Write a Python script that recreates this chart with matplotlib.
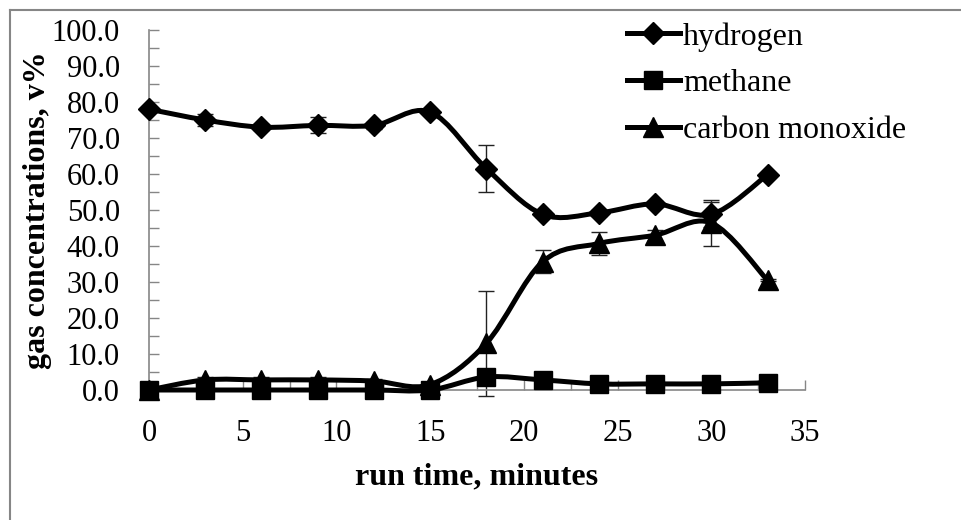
import numpy as np
import matplotlib
matplotlib.use("Agg")
import matplotlib.pyplot as plt
from matplotlib.path import Path
from matplotlib.patches import PathPatch
from matplotlib.lines import Line2D
from matplotlib.ticker import MultipleLocator, FormatStrFormatter

# run time, minutes
run_time = [0, 3, 6, 9, 12, 15, 18, 21, 24, 27, 30, 33]

# gas concentrations, v%
hydrogen = [78.0, 75.0, 73.0, 73.5, 73.5, 77.2, 61.5, 48.8, 49.2, 51.7, 48.8, 59.8]
hydrogen_err = [0.0, 1.8, 0.8, 2.2, 1.0, 0.5, 6.5, 0.8, 0.8, 0.8, 3.5, 0.5]
methane = [0.0, 0.0, 0.0, 0.0, 0.0, 0.0, 3.6, 2.8, 1.7, 1.7, 1.7, 2.0]
methane_err = [0.0, 0.0, 0.0, 0.0, 0.0, 0.0, 0.5, 0.3, 0.2, 0.2, 0.2, 0.2]
co = [0.0, 2.8, 2.8, 2.8, 2.5, 1.5, 13.0, 35.6, 40.7, 43.0, 46.4, 30.5]
co_err = [0.0, 0.8, 0.8, 0.8, 0.6, 0.8, 14.6, 3.2, 3.2, 1.5, 6.3, 0.3]

plt.rcParams['font.family'] = ['Liberation Serif', 'DejaVu Serif']
FS = 22
GRAY = '#868686'


def smooth_path(xs, ys):
    # Excel-like smoothed line: Bezier segments with 1/6 tangents
    p = np.column_stack([xs, ys]).astype(float)
    n = len(p)
    verts = [p[0]]
    codes = [Path.MOVETO]
    for i in range(n - 1):
        p0 = p[i - 1] if i > 0 else p[i]
        p3 = p[i + 2] if i + 2 < n else p[i + 1]
        c1 = p[i] + (p[i + 1] - p0) / 6.0
        c2 = p[i + 1] - (p3 - p[i]) / 6.0
        verts += [c1, c2, p[i + 1]]
        codes += [Path.CURVE4] * 3
    return Path(verts, codes)


fig = plt.figure(figsize=(9.61, 5.2), dpi=100)
ax = fig.add_axes([149 / 961, 1 - 390 / 520, (805 - 149) / 961, 360 / 520])

series = [
    (hydrogen, hydrogen_err, 'D', 11, 'hydrogen'),
    (methane, methane_err, 's', 13, 'methane'),
    (co, co_err, '^', 15, 'carbon monoxide'),
]

handles = []
for vals, err, mk, ms, name in series:
    ax.errorbar(run_time, vals, yerr=err, fmt='none', ecolor='#222222',
                elinewidth=1.0, capsize=6, capthick=1.0, clip_on=False, zorder=2)
    ax.add_patch(PathPatch(smooth_path(run_time, vals), facecolor='none',
                           edgecolor='black', lw=3.6, zorder=3, clip_on=False))
    ax.plot(run_time, vals, linestyle='none', marker=mk, ms=ms, color='black',
            clip_on=False, zorder=4)
    handles.append(Line2D([], [], color='black', lw=3.6, marker=mk, ms=ms))

ax.set_xlim(0, 35)
ax.set_ylim(0, 100)
ax.xaxis.set_major_locator(MultipleLocator(5))
ax.xaxis.set_minor_locator(MultipleLocator(2.5))
ax.yaxis.set_major_locator(MultipleLocator(10))
ax.yaxis.set_minor_locator(MultipleLocator(5))
ax.yaxis.set_major_formatter(FormatStrFormatter('%.1f'))
ax.tick_params(which='both', direction='in', length=7, width=1, color=GRAY,
               labelsize=FS, pad=21)
for s in ['top', 'right']:
    ax.spines[s].set_visible(False)
for s in ['left', 'bottom']:
    ax.spines[s].set_color(GRAY)
    ax.spines[s].set_linewidth(1.2)

ax.set_xlabel('run time, minutes', fontsize=23, fontweight='bold', labelpad=10)
ax.set_ylabel('gas concentrations, v%', fontsize=23, fontweight='bold', labelpad=0)

fig.legend(handles, [s[4] for s in series], loc='upper left',
           bbox_to_anchor=(627 / 961, 1 - 22 / 520), frameon=False,
           fontsize=23, handlelength=1.65, handletextpad=0.1,
           labelspacing=0.55, borderaxespad=0, borderpad=0)

# chart area border (left and top edges visible)
fig.add_artist(Line2D([9.5 / 961, 9.5 / 961], [0, 1 - 10 / 520],
                      transform=fig.transFigure, color=GRAY, lw=1.5))
fig.add_artist(Line2D([9.5 / 961, 1], [1 - 10 / 520, 1 - 10 / 520],
                      transform=fig.transFigure, color=GRAY, lw=1.5))

fig.savefig('out.png', dpi=100)
